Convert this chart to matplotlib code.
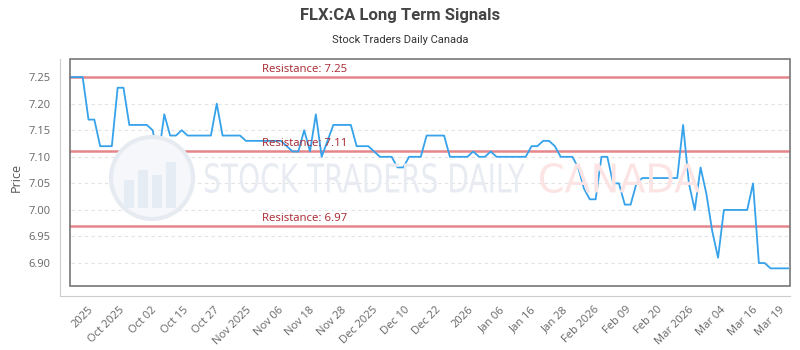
import numpy as np
import matplotlib.pyplot as plt
from matplotlib.patches import Rectangle, Circle, PathPatch
from matplotlib.textpath import TextPath
from matplotlib.font_manager import FontProperties
from matplotlib.transforms import Affine2D

# ------------------------
# Data
# ------------------------
prices = [
    7.25, 7.25, 7.25, 7.17, 7.17, 7.12, 7.12, 7.12, 7.23, 7.23,
    7.16, 7.16, 7.16, 7.16, 7.15, 7.10, 7.18, 7.14, 7.14, 7.15,
    7.14, 7.14, 7.14, 7.14, 7.14, 7.20, 7.14, 7.14, 7.14, 7.14,
    7.13, 7.13, 7.13, 7.13, 7.13, 7.13, 7.13, 7.12, 7.11, 7.11,
    7.15, 7.11, 7.18, 7.10, 7.13, 7.16, 7.16, 7.16, 7.16, 7.12,
    7.12, 7.12, 7.11, 7.10, 7.10, 7.10, 7.08, 7.08, 7.10, 7.10,
    7.10, 7.14, 7.14, 7.14, 7.14, 7.10, 7.10, 7.10, 7.10, 7.11,
    7.10, 7.10, 7.11, 7.10, 7.10, 7.10, 7.10, 7.10, 7.10, 7.12,
    7.12, 7.13, 7.13, 7.12, 7.10, 7.10, 7.10, 7.08, 7.04, 7.02,
    7.02, 7.10, 7.10, 7.05, 7.05, 7.01, 7.01, 7.05, 7.06, 7.06,
    7.06, 7.06, 7.06, 7.06, 7.06, 7.16, 7.05, 7.00, 7.08, 7.03,
    6.96, 6.91, 7.00, 7.00, 7.00, 7.00, 7.00, 7.05, 6.90, 6.90,
    6.89, 6.89, 6.89, 6.89,
]

tick_labels = [
    '2025', 'Oct 2025', 'Oct 02', 'Oct 15', 'Oct 27', 'Nov 2025', 'Nov 06',
    'Nov 18', 'Nov 28', 'Dec 2025', 'Dec 10', 'Dec 22', '2026', 'Jan 06',
    'Jan 16', 'Jan 28', 'Feb 2026', 'Feb 09', 'Feb 20', 'Mar 2026', 'Mar 04',
    'Mar 16', 'Mar 19',
]

resistance_levels = [7.25, 7.11, 6.97]


def squeezed_text(fig, s, box, color):
    # draw text as a path stretched into box (figure fraction x0, y0, x1, y1)
    tp = TextPath((0, 0), s, size=50, prop=FontProperties(family='DejaVu Sans'))
    ext = tp.get_extents()
    x0, y0, x1, y1 = box
    tr = (Affine2D().translate(-ext.x0, -ext.y0)
          .scale((x1 - x0) / ext.width, (y1 - y0) / ext.height)
          .translate(x0, y0))
    fig.patches.append(PathPatch(tr.transform_path(tp), transform=fig.transFigure,
                                 facecolor=color, edgecolor='none', zorder=0))


# ------------------------
# Plot
# ------------------------
plt.rcParams['font.family'] = ['Open Sans', 'DejaVu Sans']

fig = plt.figure(figsize=(8, 3.5), dpi=100)
ax = fig.add_axes([0.075, 0.1543, 0.9125, 0.677])
ax.patch.set_alpha(0)

x = np.arange(len(prices))
n = len(prices)

ax.set_xlim(-1.89, n - 1 + 0.34)
ax.set_ylim(6.838, 7.284)

# watermark logo (inches from bottom-left)
logo = Circle((1.52, 1.72), 0.41, transform=fig.dpi_scale_trans,
              facecolor='#f5f7fb', edgecolor='#e6ebf2', lw=3, zorder=0)
fig.patches.append(logo)
for bx, bh in zip([1.24, 1.38, 1.52, 1.66], [0.28, 0.38, 0.33, 0.46]):
    bar = Rectangle((bx, 1.42), 0.10, bh, transform=fig.dpi_scale_trans,
                    facecolor='#e6ecf4', edgecolor='none', zorder=0)
    bar.set_clip_path(logo)
    fig.patches.append(bar)
squeezed_text(fig, 'STOCK TRADERS DAILY', (205 / 800, 157 / 350, 525 / 800, 187 / 350), '#e8ecf2')
squeezed_text(fig, 'CANADA', (540 / 800, 157 / 350, 700 / 800, 187 / 350), '#fce4e4')

# grid (dashed, light)
for yv in np.arange(6.90, 7.26, 0.05):
    ax.plot([0, n - 1], [yv, yv], color='#e2e2e2', lw=0.8, ls=(0, (3, 3)), zorder=1)

# resistance lines
for lvl in resistance_levels:
    ax.axhline(lvl, xmin=0.0137, xmax=1, color='#e5868b', lw=1.8, zorder=2)
    ax.text(32.8, lvl + 0.004, f'Resistance: {lvl:.2f}', color='#a8262f',
            fontsize=8.2, va='bottom', ha='left', zorder=4)

# price line
ax.plot(x, prices, color='#36a2eb', lw=1.3, zorder=3)

# inner box
ax.add_patch(Rectangle((0.0137, 0.0422), 0.9863, 0.9578, transform=ax.transAxes,
                       fill=False, edgecolor='#777777', lw=1.2, zorder=5, clip_on=False))

# spines
for side in ['top', 'right']:
    ax.spines[side].set_visible(False)
ax.spines['left'].set_color('#cccccc')
ax.spines['bottom'].set_color('#cccccc')

ax.set_yticks(np.arange(6.90, 7.26, 0.05))
ax.set_yticklabels([f'{v:.2f}' for v in np.arange(6.90, 7.26, 0.05)])
tick_pos = list(np.linspace(2.9, 116.8, len(tick_labels) - 1)) + [121.4]
ax.set_xticks(tick_pos)
ax.set_xticklabels(tick_labels, rotation=45, ha='right', rotation_mode='anchor')
ax.tick_params(axis='both', length=0, colors='#666666', labelsize=8)
ax.tick_params(axis='y', pad=7)
ax.tick_params(axis='x', pad=6)

ax.set_ylabel('Price', color='#555555', fontsize=9)

fig.text(0.5, 0.955, 'FLX:CA Long Term Signals', ha='center', va='center',
         fontsize=12, fontweight='bold', color='#444444', family='Roboto')
fig.text(0.5, 0.885, 'Stock Traders Daily Canada', ha='center', va='center',
         fontsize=8, color='#333333', family='Roboto')

fig.savefig('out.png', dpi=100)
